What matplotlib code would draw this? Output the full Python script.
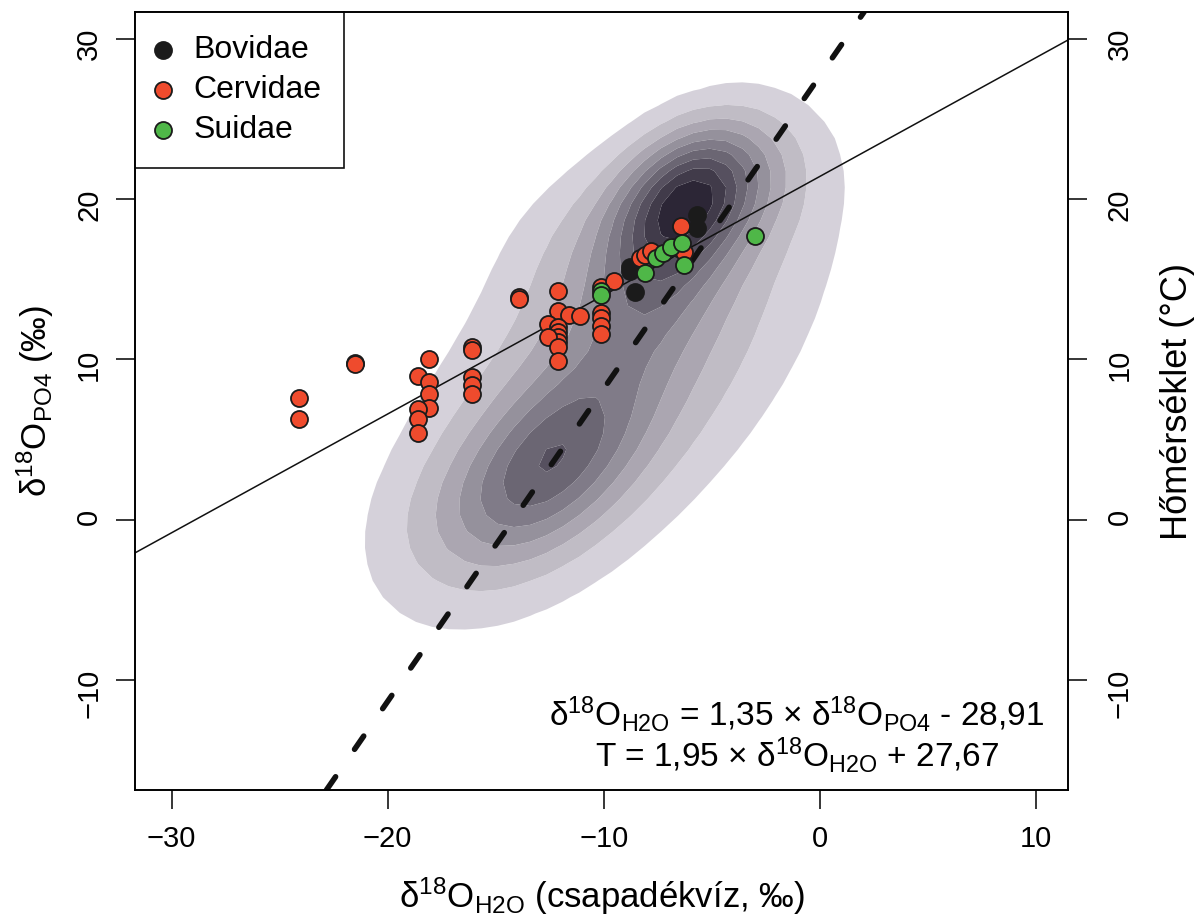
import numpy as np
import matplotlib
matplotlib.use('Agg')
import matplotlib.pyplot as plt
from matplotlib.colors import LinearSegmentedColormap

plt.rcParams['font.family'] = ['Liberation Sans', 'DejaVu Sans']
plt.rcParams['mathtext.fontset'] = 'custom'
plt.rcParams['mathtext.rm'] = 'Liberation Sans'
plt.rcParams['mathtext.default'] = 'regular'

# --- specimens: d18O of precipitation (x) vs d18O of phosphate (y) ---
bov_x = [-5.68, -5.70, -6.55, -8.80, -8.80, -8.56]
bov_y = [19.0, 18.2, 16.95, 15.8, 15.5, 14.2]

cerv_x = [-24.1, -24.1, -21.5, -21.5, -18.1, -18.6, -18.1, -18.1, -18.1, -18.6, -18.6, -18.6,
          -16.1, -16.1, -16.1, -16.1, -16.1, -13.9, -13.9, -12.1, -12.1, -11.6, -11.1, -12.6,
          -12.1, -12.1, -12.1, -12.1, -12.6, -12.1, -12.1, -10.1, -9.5, -10.1, -10.1, -10.1,
          -10.1, -8.33, -8.1, -7.8, -6.3, -6.4]
cerv_y = [7.6, 6.3, 9.8, 9.7, 10.0, 9.0, 8.6, 7.85, 7.0, 6.9, 6.3, 5.4,
          10.8, 10.6, 8.9, 8.4, 7.85, 13.9, 13.8, 14.3, 13.0, 12.8, 12.7, 12.2,
          12.0, 11.7, 11.4, 11.1, 11.4, 10.8, 9.9, 14.5, 14.9, 12.9, 12.6, 12.1,
          11.6, 16.35, 16.5, 16.8, 16.7, 18.35]

suid_x = [-10.1, -10.1, -8.1, -7.56, -7.25, -6.9, -6.36, -6.3, -3.0]
suid_y = [14.3, 14.0, 15.4, 16.35, 16.65, 17.0, 17.25, 15.9, 17.7]

# calibration equations
PO4_SLOPE, PO4_ICPT = 1.35, -28.91      # d18O_H2O = 1.35 * d18O_PO4 - 28.91
T_SLOPE, T_ICPT = 1.95, 27.67           # T = 1.95 * d18O_H2O + 27.67

# modern precipitation density, described as gaussian bumps
# (centre x, centre y, sd x, sd y, correlation, relative height)
kde_mx = [-6.0, -7.4, -12.8, -9.6, -11.8, -18.0, -1.8]
kde_my = [20.4, 15.5, 3.0, 9.0, 17.8, 0.0, 21.0]
kde_sx = [2.4, 2.5, 3.0, 6.3, 2.5, 2.5, 2.0]
kde_sy = [3.0, 4.0, 4.0, 9.0, 3.5, 3.5, 3.0]
kde_r = [0.35, 0.5, 0.5, 0.6, 0.3, 0.3, 0.2]
kde_h = [0.75, 0.30, 0.45, 0.40, 0.08, 0.05, 0.05]


def density(X, Y):
    Z = np.zeros_like(X)
    for mx, my, sx, sy, r, h in zip(kde_mx, kde_my, kde_sx, kde_sy, kde_r, kde_h):
        zx = (X - mx) / sx; zy = (Y - my) / sy
        q = (zx**2 - 2 * r * zx * zy + zy**2) / (1 - r**2)
        Z += h * np.exp(-q / 2)
    return Z


fig = plt.figure(figsize=(12.02, 9.16), dpi=100)
ax = fig.add_axes([0.11231, 0.13755, 0.77621, 0.84934])

gx = np.linspace(-27, 7, 46)
gy = np.linspace(-13, 33, 46)
X, Y = np.meshgrid(gx, gy)
Z = density(X, Y)
nlev = 10
levels = np.linspace(0, Z.max(), nlev + 1)[1:]
levels[-1] = Z.max() * 1.001
cmap = LinearSegmentedColormap.from_list('kde', ['#d5d1da', '#2c2636'])
cols = [cmap(i / (len(levels) - 2)) for i in range(len(levels) - 1)]
ax.contourf(X, Y, Z, levels=levels, colors=cols, antialiased=True, zorder=1)

# regression line (solid) and temperature line (dashed)
ax.axline((PO4_ICPT, 0), slope=1 / PO4_SLOPE, color='#111111', lw=1.1, zorder=2)
ax.axline((0, T_ICPT), slope=T_SLOPE, color='#111111', lw=4, zorder=2,
          dashes=(2.9, 6.0), dash_capstyle='round')

ms = 150
ax.scatter(bov_x, bov_y, s=ms, c='#1b1b1b', edgecolors='#1b1b1b', linewidths=1.3,
           zorder=3, label='Bovidae')
ax.scatter(cerv_x, cerv_y, s=ms, c='#ef4b2d', edgecolors='#1b1b1b', linewidths=1.3,
           zorder=3, label='Cervidae')
ax.scatter(suid_x, suid_y, s=ms, c='#4fb748', edgecolors='#1b1b1b', linewidths=1.3,
           zorder=3, label='Suidae')

ax.set_xlim(-31.7, 11.5)
ax.set_ylim(-16.86, 31.68)
ax.set_xticks([-30, -20, -10, 0, 10])
ax.set_yticks([-10, 0, 10, 20, 30])
for s in ax.spines.values():
    s.set_linewidth(1.2)
ax.tick_params(axis='x', length=14, width=1.1, labelsize=21, pad=11)
ax.tick_params(axis='y', length=14, width=1.1, labelsize=21, pad=9, labelrotation=90)

ax2 = ax.twinx()
ax2.set_ylim(ax.get_ylim())
ax2.set_yticks([-10, 0, 10, 20, 30])
ax2.tick_params(axis='y', length=14, width=1.1, labelsize=21, pad=13, labelrotation=90)
for s in ax2.spines.values():
    s.set_linewidth(1.2)

ax.set_xlabel(r'δ$^{18}$O$_{H2O}$ (csapadékvíz, ‰)', fontsize=25, va='center')
ax.xaxis.set_label_coords(0.5, -0.136)
ax.set_ylabel(r'δ$^{18}$O$_{PO4}$ (‰)', fontsize=25, va='center')
ax.yaxis.set_label_coords(-0.107, 0.5)
ax2.set_ylabel('Hőmérséklet (°C)', fontsize=26, va='center')
ax2.yaxis.set_label_coords(1.117, 0.5)

ax.text(-1.06, -12.86, r'δ$^{18}$O$_{H2O}$ = 1,35 × δ$^{18}$O$_{PO4}$ - 28,91',
        ha='center', va='baseline', fontsize=24, zorder=4)
ax.text(-1.06, -15.41, r'T = 1,95 × δ$^{18}$O$_{H2O}$ + 27,67',
        ha='center', va='baseline', fontsize=24, zorder=4)

leg = ax.legend(loc='upper left', borderaxespad=0, fontsize=23, frameon=True, fancybox=False,
                edgecolor='#111111', framealpha=1, handlelength=0.3, handletextpad=0.8,
                labelspacing=0.32, borderpad=0.72, scatterpoints=1)
leg.get_frame().set_linewidth(1.2)
leg.set_zorder(5)

fig.savefig('out.png', dpi=100)
